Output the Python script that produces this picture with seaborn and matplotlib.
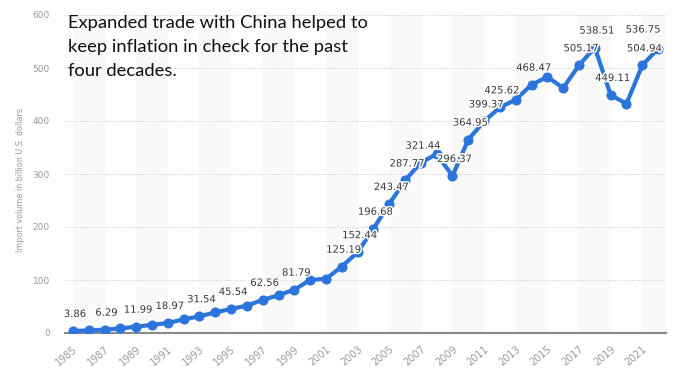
import matplotlib
matplotlib.use("Agg")
import matplotlib.pyplot as plt
import matplotlib.patheffects as pe
import seaborn as sns
import pandas as pd

# US import volume from China, billion U.S. dollars
years = list(range(1985, 2023))
imports = [3.86, 4.77, 6.29, 8.51, 11.99, 15.24, 18.97, 25.73, 31.54, 38.79,
           45.54, 51.51, 62.56, 71.17, 81.79, 100.02, 102.28, 125.19, 152.44, 196.68,
           243.47, 287.77, 321.44, 337.77, 296.37, 364.95, 399.37, 425.62, 440.43, 468.47,
           483.20, 462.42, 505.17, 538.51, 449.11, 432.55, 504.94, 536.75]

# years that carry a value label
labeled_years = [1985, 1987, 1989, 1991, 1993, 1995, 1997, 1999, 2002, 2003,
                 2004, 2005, 2006, 2007, 2009, 2010, 2011, 2012, 2014, 2017,
                 2018, 2019, 2021, 2022]

tick_years = list(range(1985, 2022, 2))
y_ticks = [0, 100, 200, 300, 400, 500, 600]

y_title = "Import volume in billion U.S. dollars"
note = "Expanded trade with China helped to\nkeep inflation in check for the past\nfour decades."

df = pd.DataFrame({"year": years, "imports": imports})

sns.set_style("white")
plt.rcParams["font.family"] = ["DejaVu Sans"]

fig = plt.figure(figsize=(6.79, 3.69), dpi=100)
ax = fig.add_axes([65 / 679, 1 - 333 / 369, 601 / 679, 318 / 369])

# alternating column shading
x0, x1 = 1984.5, 2022.5
for start in range(1985, 2023, 4):
    ax.axvspan(start, min(start + 2, x1), color="#f9f9f9", lw=0, zorder=0)

line_color = "#2a74dc"
sns.lineplot(data=df, x="year", y="imports", ax=ax, color=line_color,
             linewidth=3.0, marker="o", markersize=6.5,
             markeredgecolor=line_color, zorder=3)

# value labels
offsets = {2022: (-15, 19)}
for yr, val in zip(years, imports):
    if yr not in labeled_years:
        continue
    dx, dy = offsets.get(yr, (2, 17))
    ax.annotate(f"{val:.2f}", xy=(yr, val), xytext=(dx, dy),
                textcoords="offset pixels", ha="center", va="center",
                fontsize=7.2, color="#383838", zorder=4,
                path_effects=[pe.withStroke(linewidth=2.2, foreground="white")])

ax.set_xlim(x0, x1)
ax.set_ylim(0, 600)
ax.set_xticks(tick_years)
ax.set_xticklabels([str(y) for y in tick_years], rotation=40, ha="right",
                   rotation_mode="anchor", fontsize=7, color="#999999")
ax.set_yticks(y_ticks)
ax.set_yticklabels([str(v) for v in y_ticks], fontsize=6.5, color="#999999")
ax.tick_params(axis="x", length=0, pad=8)
ax.tick_params(axis="y", length=0, pad=11)

ax.grid(axis="y", linestyle=(0, (1, 1.5)), color="#cccccc", linewidth=0.7, zorder=1)
ax.grid(axis="x", visible=False)
ax.set_axisbelow(True)
for side in ["top", "right", "left"]:
    ax.spines[side].set_visible(False)
ax.spines["bottom"].set_color("#8a8a8a")
ax.spines["bottom"].set_linewidth(1.5)
ax.spines["bottom"].set_zorder(2)

ax.set_xlabel("")
ax.set_ylabel(y_title, fontsize=5.8, color="#999999")
ax.yaxis.set_label_coords(-0.066, 0.48)

fig.text(68 / 679, 1 - 15 / 369, note, ha="left", va="top",
         fontsize=13.2, family="Lato", color="#111111", linespacing=1.6)

fig.savefig("out.png", dpi=100)
